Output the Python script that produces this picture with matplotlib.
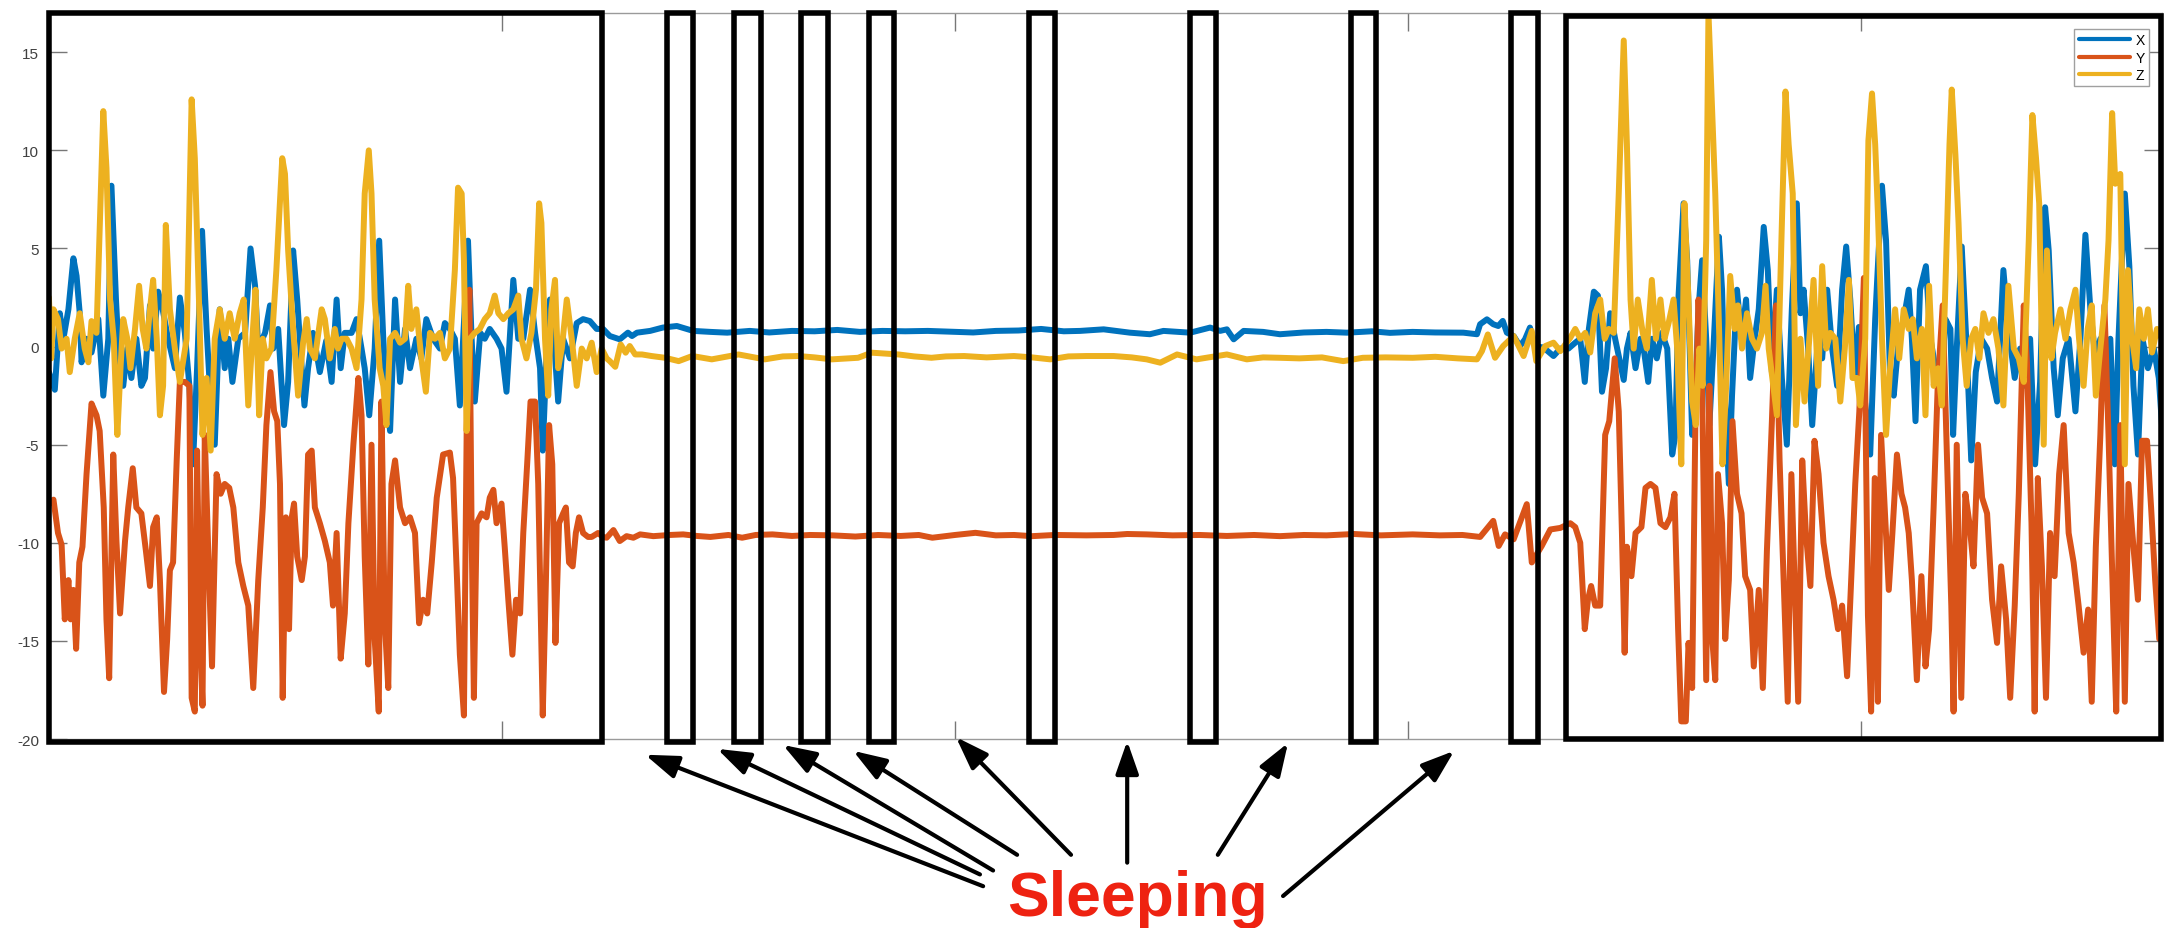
"""
Accelerometer trace (X/Y/Z) with walking / sleeping windows highlighted.
Saves out.png (2165x929).
"""

import matplotlib

matplotlib.use("Agg")
import matplotlib.pyplot as plt
import numpy as np
from matplotlib.patches import Rectangle

plt.rcParams["font.family"] = ["Liberation Sans", "DejaVu Sans"]
plt.rcParams["axes.unicode_minus"] = False

# samples: (time s, acceleration)
X_WALK1 = [
    (0.0, -1.3), (0.13, -2.2), (0.24, 1.7), (0.32, 0.4), (0.43, 1.9), (0.54, 4.5), (0.61, 3.6),
    (0.68, 1.7), (0.72, -0.8), (0.83, 0.4), (0.94, -0.3), (1.09, 1.4), (1.20, -2.5), (1.31, 0.4),
    (1.38, 8.2), (1.48, 2.4), (1.57, -1.6), (1.64, -2.0), (1.73, -0.1), (1.82, -1.6), (1.93, 0.4),
    (2.04, -2.0), (2.12, -1.6), (2.23, 2.1), (2.30, -0.1), (2.41, 2.8), (2.51, 1.9), (2.63, 0.4),
    (2.78, -1.1), (2.89, 2.5), (3.00, 0.7), (3.10, -2.0), (3.18, -6.0), (3.27, -1.1), (3.38, 5.9),
    (3.48, 0.9), (3.55, -2.0), (3.66, -5.0), (3.77, 1.9), (3.88, -1.1), (3.96, 0.4), (4.05, -1.8),
    (4.18, 0.4), (4.33, 0.7), (4.45, 5.0), (4.55, 3.1), (4.62, -0.1), (4.77, 0.7), (4.88, 2.1),
    (4.95, -0.1), (5.06, 0.9), (5.19, -4.0), (5.28, -1.8), (5.39, 4.9), (5.48, 2.4), (5.58, -1.1),
    (5.64, -3.0), (5.72, -1.1), (5.83, 0.7), (5.98, -1.3), (6.12, 0.3), (6.24, -1.8), (6.35, 2.4),
    (6.44, -1.1), (6.53, 0.7), (6.68, 0.7), (6.79, 1.4), (6.90, -0.1), (6.97, -1.1), (7.07, -3.5),
    (7.19, -0.1), (7.29, 5.4), (7.38, 0.4), (7.45, -2.5), (7.53, -4.3), (7.64, 2.4), (7.75, -1.8),
    (7.86, 0.9), (7.97, -1.1), (8.11, 0.4), (8.22, -0.6), (8.33, 1.4), (8.48, 0.4), (8.63, -0.1),
    (8.74, 1.2), (8.85, 0.9), (8.96, 0.4), (9.07, -3.0), (9.25, 5.4), (9.33, 0.4), (9.40, -2.8),
    (9.52, 0.7), (9.62, 0.4), (9.73, 0.9), (9.88, 0.4), (9.99, -0.1), (10.10, -2.3), (10.25, 3.4),
    (10.36, 0.4), (10.47, 0.4), (10.62, 2.9), (10.73, 0.7), (10.84, -1.1), (10.90, -5.3),
    (10.98, -0.6), (11.06, 2.4), (11.13, 0.9), (11.24, -2.8), (11.35, 0.4), (11.50, -0.6),
    (11.65, 1.2), (11.79, 1.4), (11.94, 1.3), (12.09, 0.9), (12.23, 0.9),
]
X_REST = [
    (12.38, 0.54), (12.6, 0.37), (12.78, 0.71), (12.87, 0.54), (12.98, 0.71), (13.27, 0.8),
    (13.55, 0.97), (13.86, 1.05), (14.22, 0.8), (14.6, 0.75), (14.97, 0.71), (15.47, 0.8),
    (15.9, 0.72), (16.4, 0.8), (16.9, 0.78), (17.4, 0.85), (17.9, 0.75), (18.4, 0.8), (18.9, 0.78),
    (19.4, 0.8), (19.9, 0.76), (20.4, 0.72), (20.9, 0.8), (21.4, 0.82), (21.9, 0.9), (22.4, 0.78),
    (22.76, 0.8), (23.28, 0.88), (23.86, 0.71), (24.3, 0.63), (24.6, 0.8), (25.19, 0.71),
    (25.63, 0.97), (25.85, 0.8), (26.0, 0.88), (26.15, 0.37), (26.37, 0.8), (26.8, 0.75),
    (27.17, 0.63), (27.7, 0.72), (28.2, 0.75), (28.65, 0.71), (29.2, 0.78), (29.6, 0.7),
    (30.1, 0.75), (30.6, 0.72), (31.22, 0.71), (31.52, 0.63), (31.59, 1.14), (31.74, 1.39),
    (31.88, 1.14), (31.99, 1.05), (32.09, 1.31), (32.18, 0.71), (32.33, 0.54), (32.47, 0.03),
    (32.58, 0.37), (32.69, 0.97), (32.8, 0.03), (32.99, -0.05), (33.21, -0.48), (33.36, -0.1),
    (33.54, -0.1),
]
X_WALK2 = [
    (33.69, 0.2), (33.8, 0.4), (33.9, -1.8), (33.99, 0.9), (34.1, 2.8), (34.19, 2.6), (34.28, -2.3),
    (34.37, -1.1), (34.46, 1.7), (34.57, 0.4), (34.66, -0.6), (34.76, -1.7), (34.83, -0.1),
    (34.91, 0.7), (35.02, -1.1), (35.13, 0.4), (35.2, -0.1), (35.3, -1.8), (35.38, 0.4),
    (35.49, -0.6), (35.6, 0.7), (35.72, -0.1), (35.83, -5.5), (35.9, -4.5), (35.97, 2.6),
    (36.08, 7.3), (36.16, 4.4), (36.27, -4.5), (36.34, -2.5), (36.41, 1.9), (36.49, 4.4),
    (36.58, 0.4), (36.65, -4.0), (36.75, 0.4), (36.86, 5.6), (36.93, 2.9), (37.0, -2.8),
    (37.08, -7.0), (37.15, -2.5), (37.26, 2.9), (37.36, 0.4), (37.46, 2.4), (37.55, -1.6),
    (37.65, 0.4), (37.74, 1.9), (37.85, 6.1), (37.94, 3.9), (38.03, -1.3), (38.14, 2.9),
    (38.25, -1.6), (38.36, -5.0), (38.47, 1.9), (38.58, 7.3), (38.66, 1.7), (38.73, 2.9),
    (38.83, -0.1), (38.92, -4.0), (39.03, -0.1), (39.14, -0.6), (39.25, 2.9), (39.36, -0.1),
    (39.47, -2.0), (39.58, 2.9), (39.67, 5.1), (39.76, 2.4), (39.86, -1.6), (39.95, 1.0),
    (40.05, -2.0), (40.2, -5.5), (40.31, 1.4), (40.46, 8.2), (40.55, 5.4), (40.64, -1.6),
    (40.72, -2.5), (40.83, 0.4), (40.94, 1.4), (41.05, 2.9), (41.12, 0.4), (41.2, -3.8),
    (41.3, 2.9), (41.43, 4.1), (41.53, 0.4), (41.64, -1.1), (41.75, -2.5), (41.86, 1.4),
    (41.97, 0.9), (42.03, -4.5), (42.11, -0.1), (42.22, 5.1), (42.33, -0.1), (42.43, -5.8),
    (42.53, -1.3), (42.65, 0.4), (42.78, -0.1), (42.89, -1.6), (43.0, -2.8), (43.14, 3.9),
    (43.25, 0.9), (43.39, -1.6), (43.51, -0.1), (43.62, -2.0), (43.73, 0.4), (43.84, -6.0),
    (43.95, -1.8), (44.06, 7.1), (44.14, 4.9), (44.25, -1.1), (44.34, -3.5), (44.45, -0.6),
    (44.58, 0.4), (44.73, -3.3), (44.84, 0.4), (44.95, 5.7), (45.06, 1.9), (45.17, -0.6),
    (45.28, 0.4), (45.39, -2.5), (45.5, 0.4), (45.6, -6.0), (45.68, 0.4), (45.82, 7.8),
    (45.92, 4.1), (46.01, -2.0), (46.11, -5.5), (46.21, 0.4), (46.33, -1.1), (46.46, -0.1),
    (46.57, -1.6), (46.64, -4.0),
]

Y_WALK1 = [
    (0.0, -8.0), (0.1, -7.8), (0.2, -9.5), (0.28, -10.1), (0.35, -13.9), (0.43, -11.9),
    (0.48, -13.9), (0.54, -12.4), (0.60, -15.4), (0.67, -11.0), (0.74, -10.2), (0.83, -6.5),
    (0.94, -2.9), (1.05, -3.5), (1.12, -4.3), (1.21, -8.2), (1.27, -13.9), (1.33, -16.9),
    (1.42, -5.5), (1.49, -9.9), (1.57, -13.6), (1.68, -9.9), (1.75, -8.2), (1.85, -6.2),
    (1.93, -8.2), (2.04, -8.5), (2.14, -10.4), (2.23, -12.2), (2.30, -9.2), (2.38, -8.7),
    (2.45, -11.9), (2.54, -17.6), (2.61, -14.9), (2.67, -11.4), (2.74, -11.0), (2.82, -5.8),
    (2.89, -1.8), (3.0, -1.8), (3.10, -2.0), (3.15, -17.9), (3.22, -18.6), (3.27, -5.3),
    (3.33, -14.4), (3.39, -18.3), (3.44, -4.5), (3.52, -10.7), (3.60, -16.3), (3.70, -6.5),
    (3.79, -7.5), (3.88, -7.0), (3.98, -7.2), (4.07, -8.2), (4.18, -11.0), (4.29, -12.2),
    (4.40, -13.2), (4.51, -17.4), (4.62, -11.9), (4.72, -8.2), (4.80, -4.0), (4.89, -1.3),
    (4.97, -3.3), (5.04, -3.8), (5.10, -7.0), (5.16, -17.9), (5.23, -8.7), (5.30, -14.4),
    (5.36, -8.7), (5.41, -8.0), (5.48, -10.7), (5.58, -11.9), (5.65, -10.7), (5.72, -5.5),
    (5.80, -5.3), (5.87, -8.2), (5.98, -9.0), (6.09, -9.9), (6.20, -11.0), (6.27, -13.2),
    (6.35, -9.5), (6.44, -15.9), (6.53, -13.6), (6.61, -9.0), (6.72, -5.0), (6.83, -1.6),
    (6.90, -3.5), (6.97, -10.7), (7.05, -16.2), (7.12, -5.0), (7.19, -14.9), (7.28, -18.6),
    (7.34, -2.8), (7.41, -13.9), (7.49, -17.4), (7.56, -7.0), (7.64, -5.8), (7.75, -8.2),
    (7.86, -9.0), (7.97, -8.7), (8.08, -9.5), (8.17, -14.1), (8.26, -12.9), (8.35, -13.6),
    (8.45, -11.0), (8.56, -7.7), (8.70, -5.5), (8.85, -5.4), (8.92, -6.7), (9.0, -11.4),
    (9.07, -15.7), (9.16, -18.8), (9.23, -2.0), (9.28, 2.9), (9.33, -9.5), (9.38, -17.9),
    (9.44, -9.0), (9.55, -8.5), (9.66, -8.7), (9.73, -7.7), (9.81, -7.3), (9.88, -9.0),
    (9.99, -8.0), (10.06, -10.2), (10.14, -12.9), (10.23, -15.7), (10.31, -12.9), (10.40, -13.6),
    (10.47, -9.5), (10.56, -5.8), (10.63, -2.8), (10.73, -2.8), (10.80, -7.0), (10.90, -18.8),
    (10.97, -11.9), (11.04, -4.0), (11.11, -6.0), (11.18, -15.1), (11.26, -9.0), (11.35, -8.5),
    (11.41, -8.2), (11.48, -11.0), (11.56, -11.2), (11.63, -9.5), (11.70, -8.7), (11.79, -9.5),
    (11.90, -9.7), (11.98, -9.7), (12.12, -9.5), (12.23, -9.7),
]
Y_REST = [
    (12.31, -9.74), (12.46, -9.35), (12.6, -9.91), (12.75, -9.66), (12.9, -9.74), (13.05, -9.57),
    (13.34, -9.66), (13.7, -9.6), (14.0, -9.57), (14.3, -9.65), (14.6, -9.7), (15.0, -9.6),
    (15.3, -9.74), (15.6, -9.6), (15.97, -9.57), (16.4, -9.65), (16.8, -9.6), (17.3, -9.62),
    (17.8, -9.68), (18.3, -9.6), (18.8, -9.65), (19.2, -9.6), (19.5, -9.74), (20.0, -9.6),
    (20.45, -9.49), (20.9, -9.62), (21.3, -9.6), (21.7, -9.66), (22.2, -9.6), (22.9, -9.62),
    (23.5, -9.6), (23.8, -9.55), (24.23, -9.57), (24.8, -9.62), (25.4, -9.6), (26.0, -9.65),
    (26.6, -9.6), (27.17, -9.66), (27.7, -9.6), (28.2, -9.62), (28.8, -9.55), (29.4, -9.62),
    (30.1, -9.57), (30.7, -9.62), (31.2, -9.6), (31.59, -9.7), (31.88, -8.88), (32.0, -10.16),
    (32.14, -9.57), (32.33, -9.82), (32.62, -8.03), (32.73, -11.0), (32.95, -10.16),
    (33.14, -9.32), (33.36, -9.24), (33.58, -9.0),
]
Y_WALK2 = [
    (33.69, -9.2), (33.8, -10.0), (33.9, -14.4), (33.97, -12.9), (34.04, -12.2), (34.13, -13.2),
    (34.24, -13.2), (34.35, -4.5), (34.44, -3.8), (34.56, -0.6), (34.65, -3.3), (34.72, -9.5),
    (34.78, -15.6), (34.83, -10.2), (34.93, -11.7), (35.02, -9.5), (35.15, -9.2), (35.24, -7.2),
    (35.35, -7.0), (35.46, -7.2), (35.57, -9.0), (35.68, -9.2), (35.79, -8.7), (35.88, -7.5),
    (35.96, -14.4), (36.03, -19.1), (36.13, -19.1), (36.19, -15.1), (36.27, -17.4), (36.34, -4.0),
    (36.41, 2.4), (36.49, -2.0), (36.58, -17.0), (36.65, -2.0), (36.72, -15.1), (36.78, -17.0),
    (36.84, -6.5), (36.93, -9.0), (37.0, -14.9), (37.08, -11.9), (37.16, -3.8), (37.26, -7.5),
    (37.36, -8.5), (37.44, -11.7), (37.55, -12.4), (37.63, -16.3), (37.74, -12.4), (37.83, -17.4),
    (37.92, -10.4), (38.03, -3.8), (38.12, 2.1), (38.2, -5.8), (38.29, -11.9), (38.38, -18.1),
    (38.46, -6.5), (38.53, -11.9), (38.61, -18.1), (38.7, -5.8), (38.78, -9.5), (38.88, -12.2),
    (38.97, -4.8), (39.06, -6.5), (39.17, -10.0), (39.28, -11.7), (39.39, -12.9), (39.49, -14.4),
    (39.58, -13.2), (39.69, -16.8), (39.78, -11.9), (39.87, -7.0), (39.96, -3.3), (40.06, 3.5),
    (40.15, -13.7), (40.22, -18.6), (40.3, -6.7), (40.37, -18.1), (40.44, -4.5), (40.52, -8.2),
    (40.61, -12.4), (40.69, -9.5), (40.79, -5.5), (40.89, -7.5), (40.97, -8.2), (41.05, -9.5),
    (41.12, -11.9), (41.23, -17.0), (41.33, -11.7), (41.42, -16.3), (41.5, -14.4), (41.6, -8.2),
    (41.69, -2.0), (41.8, 2.1), (41.89, -5.3), (41.99, -13.2), (42.04, -18.6), (42.11, -5.0),
    (42.21, -17.9), (42.3, -7.5), (42.39, -9.0), (42.48, -11.2), (42.58, -5.0), (42.67, -7.7),
    (42.78, -8.5), (42.89, -12.9), (43.0, -15.1), (43.09, -11.2), (43.2, -13.9), (43.29, -17.9),
    (43.39, -13.2), (43.48, -7.5), (43.59, 2.1), (43.66, -0.8), (43.76, -9.0), (43.83, -18.6),
    (43.9, -6.7), (43.99, -11.2), (44.08, -17.9), (44.17, -9.5), (44.27, -11.7), (44.37, -6.5),
    (44.47, -4.0), (44.58, -9.5), (44.69, -11.0), (44.8, -13.2), (44.91, -15.6), (45.01, -13.4),
    (45.09, -18.1), (45.18, -10.2), (45.28, -4.5), (45.37, 2.1), (45.46, -4.5), (45.57, -13.9),
    (45.63, -18.6), (45.72, -4.0), (45.82, -18.1), (45.9, -7.0), (46.01, -10.2), (46.11, -12.9),
    (46.2, -4.8), (46.31, -4.8), (46.4, -8.2), (46.49, -11.9), (46.58, -14.9), (46.66, -11.2),
]

Z_WALK1 = [
    (0.0, 2.5), (0.05, -0.6), (0.1, 1.9), (0.2, 1.4), (0.28, -0.1), (0.39, 0.4), (0.46, -1.3),
    (0.57, 0.4), (0.68, 1.7), (0.79, -0.1), (0.87, -0.8), (0.94, 1.3), (1.05, 0.7), (1.2, 12.0),
    (1.27, 9.1), (1.35, 2.4), (1.43, 0.4), (1.51, -4.5), (1.58, -1.1), (1.64, 1.4), (1.73, 0.4),
    (1.80, -1.1), (1.90, 0.9), (1.99, 3.1), (2.07, 0.9), (2.15, -0.1), (2.23, 1.9), (2.30, 3.4),
    (2.38, 0.4), (2.45, -3.5), (2.52, -2.0), (2.58, 6.2), (2.67, 1.9), (2.78, -0.1), (2.89, -1.8),
    (3.04, 0.4), (3.15, 12.6), (3.22, 9.6), (3.32, 1.7), (3.39, -4.5), (3.48, -1.6), (3.57, -5.3),
    (3.66, 0.4), (3.77, 1.9), (3.88, 0.4), (3.99, 1.7), (4.10, 0.4), (4.21, 1.7), (4.30, 2.4),
    (4.40, -3.0), (4.49, 0.4), (4.56, 2.9), (4.64, -3.5), (4.72, 0.4), (4.80, -0.6), (4.91, -0.1),
    (5.02, 3.9), (5.15, 9.6), (5.21, 8.8), (5.28, 4.9), (5.39, 0.9), (5.50, -2.5), (5.61, 0.2),
    (5.69, 1.4), (5.76, -0.1), (5.87, -0.6), (6.02, 1.9), (6.09, 1.4), (6.20, -0.6), (6.31, 0.9),
    (6.38, -0.1), (6.46, 0.4), (6.57, 0.4), (6.68, -0.1), (6.79, -1.1), (6.90, 2.4), (6.97, 7.8),
    (7.06, 10.0), (7.12, 7.8), (7.19, 2.4), (7.30, -1.1), (7.38, -2.0), (7.45, -4.0), (7.53, 0.4),
    (7.64, 0.7), (7.75, 0.2), (7.86, 0.4), (7.93, 3.1), (8.0, 0.9), (8.11, 1.9), (8.22, -0.6),
    (8.32, -2.3), (8.41, 0.7), (8.52, 0.4), (8.63, 0.7), (8.74, -0.6), (8.85, -0.1), (8.96, 3.9),
    (9.03, 8.1), (9.11, 7.8), (9.16, 4.4), (9.22, -4.3), (9.29, 0.4), (9.40, 0.7), (9.51, 0.9),
    (9.62, 1.4), (9.73, 1.7), (9.84, 2.6), (9.92, 1.7), (10.03, 1.4), (10.14, 1.7), (10.25, 1.9),
    (10.36, 2.6), (10.43, 0.4), (10.54, -0.6), (10.65, 0.7), (10.75, 2.9), (10.82, 7.3),
    (10.87, 6.3), (10.95, 0.4), (11.02, -2.5), (11.09, 1.9), (11.17, 3.4), (11.24, -1.1),
    (11.32, -0.1), (11.43, 2.4), (11.54, 0.4), (11.65, -2.0), (11.76, -0.1), (11.87, -0.6),
    (11.98, 0.2), (12.09, -1.3), (12.20, -0.1), (12.31, -0.6),
]
Z_REST = [
    (12.38, -0.74), (12.5, -1.03), (12.62, 0.11), (12.73, -0.31), (12.82, 0.03), (12.94, -0.4),
    (13.09, -0.4), (13.3, -0.48), (13.6, -0.57), (13.9, -0.74), (14.2, -0.48), (14.63, -0.65),
    (15.22, -0.4), (15.8, -0.65), (16.2, -0.5), (16.54, -0.48), (16.9, -0.55), (17.28, -0.65),
    (17.86, -0.57), (18.16, -0.31), (18.75, -0.4), (19.1, -0.5), (19.48, -0.57), (19.8, -0.5),
    (20.2, -0.48), (20.7, -0.55), (21.3, -0.48), (21.7, -0.55), (22.1, -0.65), (22.5, -0.5),
    (22.9, -0.48), (23.5, -0.48), (23.9, -0.55), (24.23, -0.65), (24.53, -0.82), (24.9, -0.4),
    (25.33, -0.65), (26.0, -0.4), (26.44, -0.65), (26.8, -0.55), (27.17, -0.57), (27.6, -0.6),
    (28.1, -0.55), (28.57, -0.74), (29.0, -0.57), (29.5, -0.55), (30.1, -0.57), (30.6, -0.52),
    (31.1, -0.6), (31.52, -0.65), (31.63, -0.23), (31.76, 0.62), (31.92, -0.57), (32.1, 0.03),
    (32.33, 0.54), (32.55, -0.48), (32.73, 0.8), (32.83, -0.74), (33.03, 0.03), (33.21, 0.2),
    (33.36, -0.23), (33.58, 0.45),
]
Z_WALK2 = [
    (33.69, 0.9), (33.8, 0.4), (33.91, 0.7), (34.02, -0.3), (34.13, 1.7), (34.24, 2.4),
    (34.34, 0.4), (34.43, 0.9), (34.54, 0.7), (34.65, 7.8), (34.76, 15.6), (34.83, 10.3),
    (34.91, 2.4), (34.98, -0.1), (35.07, 2.4), (35.18, 0.7), (35.27, -0.1), (35.38, 3.4),
    (35.47, 0.4), (35.57, 2.4), (35.66, 0.4), (35.75, 1.2), (35.86, 2.4), (35.94, -0.1),
    (36.03, -6.0), (36.1, 7.3), (36.18, 2.9), (36.27, -2.8), (36.35, -4.0), (36.43, -0.1),
    (36.5, -2.0), (36.58, 5.4), (36.63, 17.0), (36.72, 11.5), (36.78, 7.8), (36.87, 0.4),
    (36.94, -6.0), (37.02, -2.0), (37.11, 3.6), (37.21, 0.9), (37.28, 2.1), (37.37, -0.1),
    (37.48, 1.7), (37.59, 0.4), (37.7, -0.1), (37.81, 0.7), (37.89, 3.1), (37.96, -0.1),
    (38.05, -1.8), (38.14, -3.5), (38.24, 5.4), (38.33, 13.0), (38.4, 10.3), (38.49, 7.8),
    (38.56, -4.0), (38.66, 0.4), (38.75, -2.8), (38.84, -0.1), (38.95, 3.4), (39.05, -2.0),
    (39.14, 4.1), (39.23, -0.1), (39.32, 0.7), (39.43, 0.4), (39.54, -2.8), (39.64, -0.1),
    (39.73, 3.4), (39.81, -1.6), (39.91, -1.6), (39.98, -3.0), (40.09, 0.4), (40.16, 10.5),
    (40.24, 12.9), (40.31, 10.3), (40.37, 6.8), (40.46, 0.4), (40.55, -4.5), (40.64, -1.1),
    (40.75, 1.9), (40.84, -0.6), (40.94, 1.9), (41.05, 0.9), (41.14, 1.4), (41.23, -0.6),
    (41.34, 0.9), (41.42, -3.5), (41.5, 3.1), (41.6, -2.0), (41.7, -1.1), (41.78, -3.0),
    (41.87, 3.9), (41.95, 10.3), (42.0, 13.1), (42.08, 9.8), (42.15, 6.3), (42.24, 0.4),
    (42.33, -2.0), (42.43, 0.4), (42.52, 0.9), (42.61, -0.6), (42.7, 1.7), (42.81, 0.7),
    (42.92, 1.4), (43.03, -0.1), (43.14, -3.0), (43.25, 3.1), (43.37, -0.1), (43.48, -0.6),
    (43.59, -1.8), (43.7, 5.4), (43.78, 11.8), (43.86, 9.6), (43.93, 7.3), (44.03, -5.0),
    (44.1, 4.9), (44.2, -0.6), (44.28, 0.7), (44.4, 1.9), (44.51, 0.4), (44.62, 1.9),
    (44.73, 2.9), (44.81, 0.4), (44.91, -2.0), (45.0, 0.9), (45.09, 2.1), (45.18, -2.5),
    (45.28, -0.1), (45.39, 2.4), (45.46, 5.4), (45.54, 11.9), (45.61, 8.3), (45.72, 8.8),
    (45.82, -6.0), (45.89, 3.9), (45.98, 0.4), (46.07, -1.1), (46.14, 1.9), (46.24, 0.4),
    (46.33, 1.9), (46.42, -0.3), (46.53, 0.9), (46.64, 0.4),
]

SERIES = [
    ("X", X_WALK1 + X_REST + X_WALK2, "#0072BD"),
    ("Y", Y_WALK1 + Y_REST + Y_WALK2, "#D95319"),
    ("Z", Z_WALK1 + Z_REST + Z_WALK2, "#EDB120"),
]

# highlighted windows (s)
ACTIVE_WINDOWS = [(0.01, 12.2, -20.17, 17.0), (33.48, 46.61, -20.0, 16.83)]
SLEEP_WINDOWS = [
    (13.65, 14.22), (15.13, 15.71), (16.61, 17.19), (18.11, 18.66),
    (21.64, 22.2), (25.18, 25.75), (28.73, 29.3), (32.28, 32.86),
]
# arrows from the label: (tail t, tail y) -> (head t, head y)
ARROW_TAILS = [(20.62, -27.5), (20.55, -26.9), (20.84, -26.7), (21.37, -25.9),
               (22.56, -25.9), (23.8, -26.3), (25.8, -25.9), (27.24, -28.0)]
ARROW_HEADS = [(13.16, -20.8), (14.75, -20.5), (16.2, -20.3), (17.75, -20.6),
               (20.02, -19.9), (23.8, -20.1), (27.35, -20.2), (31.02, -20.6)]
LABEL_POS = (24.03, -28.95)

YTICKS = [-20, -15, -10, -5, 0, 5, 10, 15]
XTICKS = [0, 10, 20, 30, 40]


fig = plt.figure(figsize=(21.65, 9.29), dpi=100)
ax = fig.add_axes([0.0226, 0.2034, 0.9760, 0.7815])

for name, pts, color in SERIES:
    arr = np.array(pts)
    ax.plot(arr[:, 0], arr[:, 1], color=color, lw=4.3, label=name,
            solid_joinstyle="round", solid_capstyle="round")

ax.set_xlim(0, 46.64)
ax.set_ylim(-20, 17)
ax.set_xticks(XTICKS)
ax.set_xticklabels([])
ax.set_yticks(YTICKS)
ax.set_yticklabels([str(v) for v in YTICKS])
ax.tick_params(direction="in", length=13, width=1, color="#777777", top=True, right=True,
               labelsize=11, labelcolor="#404040", pad=7)
for sp in ax.spines.values():
    sp.set_color("#9a9a9a")
    sp.set_linewidth(1.0)

leg = ax.legend(loc="upper right", bbox_to_anchor=(0.9938, 0.978), fontsize=10,
                fancybox=False, framealpha=1, edgecolor="#a0a0a0", handlelength=3.7,
                handletextpad=0.4, labelspacing=0.25, borderpad=0.3, borderaxespad=0)
leg.get_frame().set_linewidth(1.0)
for line in leg.get_lines():
    line.set_linewidth(3.0)
leg.set_zorder(10)

# boxes around walking and sleeping windows
for t0, t1, y0, y1 in ACTIVE_WINDOWS:
    ax.add_patch(Rectangle((t0, y0), t1 - t0, y1 - y0, fill=False, ec="black",
                           lw=4, clip_on=False, zorder=6))
for t0, t1 in SLEEP_WINDOWS:
    ax.add_patch(Rectangle((t0, -20.17), t1 - t0, 37.17, fill=False, ec="black",
                           lw=4, clip_on=False, zorder=6))

for tail, head in zip(ARROW_TAILS, ARROW_HEADS):
    ax.annotate("", xy=head, xytext=tail, annotation_clip=False,
                arrowprops=dict(arrowstyle="-|>,head_length=1.0,head_width=0.35",
                                mutation_scale=20, lw=3, color="black",
                                shrinkA=0, shrinkB=0))

ax.text(LABEL_POS[0], LABEL_POS[1], "Sleeping", fontsize=45, fontweight="bold",
        color="#EE2211", ha="center", va="baseline", clip_on=False)

fig.savefig("out.png", dpi=100)
